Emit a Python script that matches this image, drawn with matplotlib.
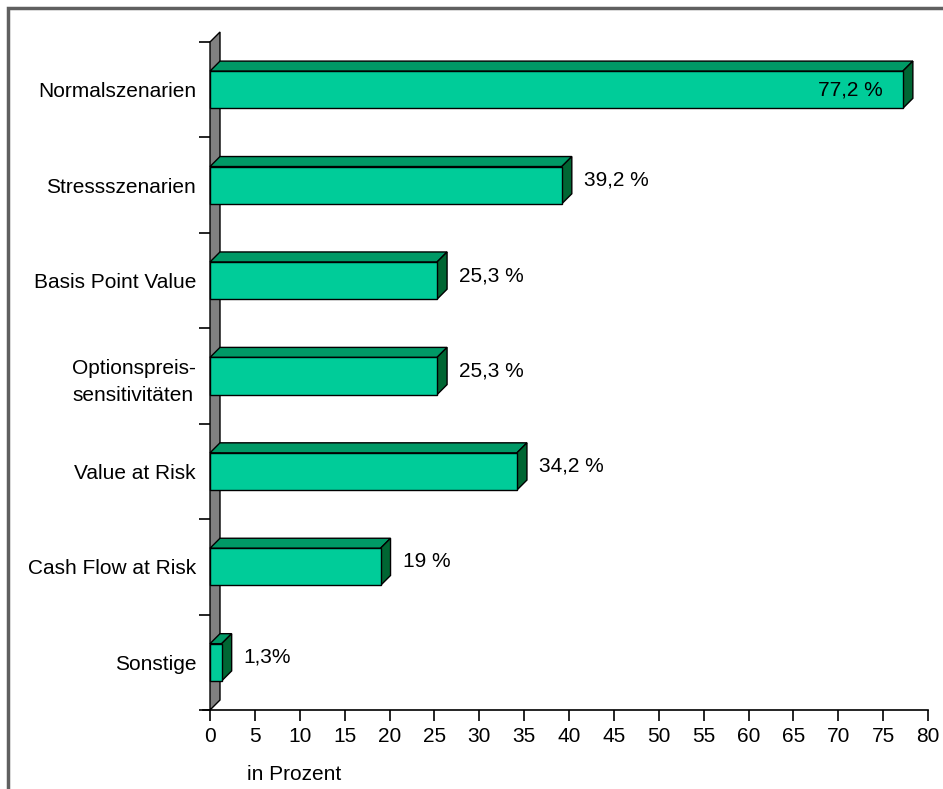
import matplotlib
matplotlib.use("Agg")
import matplotlib.pyplot as plt
from matplotlib.patches import Polygon, Rectangle

categories = ["Normalszenarien", "Stressszenarien", "Basis Point Value",
              "Optionspreis-\nsensitivitäten", "Value at Risk",
              "Cash Flow at Risk", "Sonstige"]
values = [77.2, 39.2, 25.3, 25.3, 34.2, 19.0, 1.3]
value_labels = ["77,2 %", "39,2 %", "25,3 %", "25,3 %", "34,2 %", "19 %", "1,3%"]
x_ticks = list(range(0, 81, 5))
x_label = "in Prozent"

FRONT = "#00CC99"
TOP = "#009966"
SIDE = "#006633"
WALL = "#808080"
FS = 15

W, H, DPI = 943, 789, 100
plt.rcParams["font.family"] = ["Liberation Sans", "DejaVu Sans"]
fig = plt.figure(figsize=(W / DPI, H / DPI), dpi=DPI)

# plot area in pixels
x0, x1, ytop, ybot = 210, 928, 42, 710
ax = fig.add_axes([x0 / W, 1 - ybot / H, (x1 - x0) / W, (ybot - ytop) / H])
n = len(categories)
ax.set_xlim(0, 80)
ax.set_ylim(-0.5, n - 0.5)

# 3D depth (pixels) converted to data units
depth_px = 10
dx = depth_px * 80 / (x1 - x0)
dy = depth_px * n / (ybot - ytop)
bar_h = 0.39

# back wall
wall = Polygon([(0, -0.5), (0, n - 0.5), (dx, n - 0.5 + dy), (dx, -0.5 + dy)],
               closed=True, facecolor=WALL, edgecolor="black", lw=1.0,
               zorder=1, clip_on=False)
ax.add_patch(wall)

for i, (v, lab) in enumerate(zip(values, value_labels)):
    c = n - 1 - i
    lo, hi = c - bar_h / 2, c + bar_h / 2
    front = Rectangle((0, lo), v, bar_h, facecolor=FRONT, edgecolor="black",
                      lw=1.0, zorder=3, clip_on=False)
    top = Polygon([(0, hi), (v, hi), (v + dx, hi + dy), (dx, hi + dy)],
                  closed=True, facecolor=TOP, edgecolor="black", lw=1.0,
                  zorder=2, clip_on=False)
    side = Polygon([(v, lo), (v, hi), (v + dx, hi + dy), (v + dx, lo + dy)],
                   closed=True, facecolor=SIDE, edgecolor="black", lw=1.0,
                   zorder=2, clip_on=False)
    for p in (top, side, front):
        ax.add_patch(p)
    if v > 60:
        ax.annotate(lab, (v, c), xytext=(-20, 0), textcoords="offset pixels",
                    ha="right", va="center", fontsize=FS, zorder=4)
    else:
        ax.annotate(lab, (v + dx, c), xytext=(12, 5), textcoords="offset pixels",
                    ha="left", va="center", fontsize=FS, zorder=4)

for s in ("top", "right", "left"):
    ax.spines[s].set_visible(False)
ax.spines["bottom"].set_bounds(-0.8, 80)
ax.spines["bottom"].set_linewidth(1.2)

ax.set_xticks(x_ticks)
ax.set_xticklabels([str(t) for t in x_ticks], fontsize=FS)
ax.tick_params(axis="x", length=8, width=1.2, direction="out", pad=4)

ax.set_yticks([k - 0.5 for k in range(n + 1)])
ax.set_yticklabels([])
ax.tick_params(axis="y", which="major", length=8, width=1.2, direction="out")
ax.set_yticks(range(n), minor=True)
ax.set_yticklabels(categories[::-1], minor=True, fontsize=FS,
                   multialignment="left", linespacing=1.5)
ax.tick_params(axis="y", which="minor", length=0, pad=10)
for t in ax.get_yticklabels(minor=True):
    if "\n" in t.get_text():
        t.set_y(t.get_position()[1] + 0.03)

fig.text(247 / W, 1 - 775 / H, x_label, fontsize=FS, ha="left", va="center")

# outer frame
fig.patches.append(Rectangle((8 / W, -0.1), 1.2, 1 - 8 / H + 0.1,
                             transform=fig.transFigure, fill=False,
                             edgecolor="#606060", lw=2.5))

fig.savefig("out.png", dpi=DPI)
